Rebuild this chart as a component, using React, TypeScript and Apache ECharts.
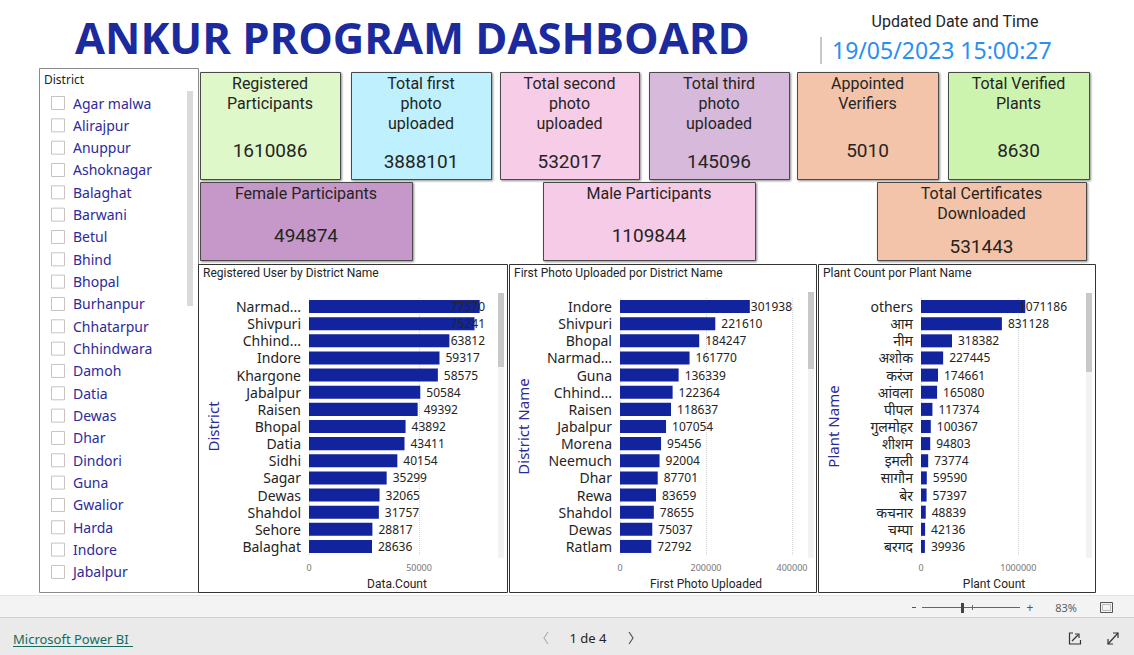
import React, { useEffect, useRef } from "react";
import * as echarts from "echarts";

// ---------------- DATA ----------------
const registeredDistricts = ["Narmad...", "Shivpuri", "Chhind...", "Indore", "Khargone", "Jabalpur", "Raisen", "Bhopal", "Datia", "Sidhi", "Sagar", "Dewas", "Shahdol", "Sehore", "Balaghat"];
const registeredCounts = [77570, 75241, 63812, 59317, 58575, 50584, 49392, 43892, 43411, 40154, 35299, 32065, 31757, 28817, 28636];

const photoDistricts = ["Indore", "Shivpuri", "Bhopal", "Narmad...", "Guna", "Chhind...", "Raisen", "Jabalpur", "Morena", "Neemuch", "Dhar", "Rewa", "Shahdol", "Dewas", "Ratlam"];
const firstPhotoCounts = [301938, 221610, 184247, 161770, 136339, 122364, 118637, 107054, 95456, 92004, 87701, 83659, 78655, 75037, 72792];

const plantNames = ["others", "आम", "नीम", "अशोक", "करंज", "आंवला", "पीपल", "गुलमोहर", "शीशम", "इमली", "सागौन", "बेर", "कचनार", "चम्पा", "बरगद"];
const plantCounts = [1071186, 831128, 318382, 227445, 174661, 165080, 117374, 100367, 94803, 73774, 59590, 57397, 48839, 42136, 39936];

const slicerDistricts = ["Agar malwa", "Alirajpur", "Anuppur", "Ashoknagar", "Balaghat", "Barwani", "Betul", "Bhind", "Bhopal", "Burhanpur", "Chhatarpur", "Chhindwara", "Damoh", "Datia", "Dewas", "Dhar", "Dindori", "Guna", "Gwalior", "Harda", "Indore", "Jabalpur"];

const cardTitles = [
  "Registered\nParticipants",
  "Total first\nphoto\nuploaded",
  "Total second\nphoto\nuploaded",
  "Total third\nphoto\nuploaded",
  "Appointed\nVerifiers",
  "Total Verified\nPlants",
  "Female Participants",
  "Male Participants",
  "Total Certificates\nDownloaded",
];
const cardValues = ["1610086", "3888101", "532017", "145096", "5010", "8630", "494874", "1109844", "531443"];

const chartTitles = ["Registered User by District Name", "First Photo Uploaded por District Name", "Plant Count por Plant Name"];
const xAxisNames = ["Data.Count", "First Photo Uploaded", "Plant Count"];
const yAxisNames = ["District", "District Name", "Plant Name"];
const xAxisMax = [80000, 400000, 1500000];
const xAxisInterval = [50000, 200000, 1000000];
const xAxisTicks = [[0, 50000], [0, 200000, 400000], [0, 1000000]];

const dashboardTitle = "ANKUR PROGRAM DASHBOARD";
const updatedLabel = "Updated Date and Time";
const updatedValue = "19/05/2023 15:00:27";

// ---------------- LAYOUT / STYLE ----------------
const FONT_UI = '"Noto Sans", "Noto Sans Devanagari", "Open Sans", sans-serif';
const FONT_DIN = 'Roboto, "Noto Sans", sans-serif';
const BAR_COLOR = "#12239E";

// card boxes: x, y, w, h, bg, title y, value y
const cardLayout = [
  { x: 200, y: 72, w: 140, h: 107, bg: "#DFF8CA", ty: 83, vy: 150 },
  { x: 351, y: 72, w: 140, h: 107, bg: "#BEF1FD", ty: 83, vy: 161 },
  { x: 500, y: 72, w: 139, h: 107, bg: "#F6CCE7", ty: 83, vy: 161 },
  { x: 649, y: 72, w: 140, h: 107, bg: "#D7B9DB", ty: 83, vy: 161 },
  { x: 797, y: 72, w: 141, h: 107, bg: "#F4C4AA", ty: 83, vy: 150 },
  { x: 948, y: 72, w: 141, h: 107, bg: "#CDF4AF", ty: 83, vy: 150 },
  { x: 200, y: 182, w: 212, h: 78, bg: "#C598C9", ty: 193, vy: 235 },
  { x: 543, y: 182, w: 212, h: 78, bg: "#F6CBE7", ty: 193, vy: 235 },
  { x: 877, y: 182, w: 209, h: 78, bg: "#F4C4AA", ty: 193, vy: 246 },
];

const panelLayout = [
  { x: 198.5, w: 309 },
  { x: 509.5, w: 307 },
  { x: 818.5, w: 277 },
];
const gridLayout = [
  { left: 309, width: 176, nameGap: 89, labelRight: 485, scrollX: 498, thumbTop: 293, thumbBottom: 367 },
  { left: 620, width: 172, nameGap: 90, labelRight: 792, scrollX: 808, thumbTop: 292, thumbBottom: 369 },
  { left: 921, width: 146, nameGap: 81, labelRight: 1067, scrollX: 1086, thumbTop: 293, thumbBottom: 372 },
];
const GRID_TOP = 298;
const GRID_H = 257;

function buildGraphics() {
  const g: any[] = [];
  const rect = (x: number, y: number, w: number, h: number, style: any, z = 0) =>
    g.push({ type: "rect", shape: { x, y, width: w, height: h }, style, z, silent: true });
  const text = (x: number, y: number, t: string, style: any, z = 2) =>
    g.push({ type: "text", x, y, style: { text: t, verticalAlign: "middle", ...style }, z, silent: true });
  const line = (x1: number, y1: number, x2: number, y2: number, stroke: string, lw = 1, z = 1) =>
    g.push({ type: "line", shape: { x1, y1, x2, y2 }, style: { stroke, lineWidth: lw }, z, silent: true });
  const poly = (points: number[][], stroke: string, lw = 1, z = 3) =>
    g.push({ type: "polyline", shape: { points }, style: { stroke, lineWidth: lw, fill: "none" }, z, silent: true });

  // title
  text(75, 37, dashboardTitle, { fill: "#1B2A9C", fontSize: 43.5, fontWeight: "bold", fontFamily: '"Open Sans", "Noto Sans", sans-serif', align: "left" });

  // updated date/time
  text(955, 21, updatedLabel, { fill: "#252423", fontSize: 16, fontFamily: FONT_DIN, align: "center" });
  rect(820, 37, 2, 27, { fill: "#c8c8c8" });
  text(832, 50, updatedValue, { fill: "#2B8FEF", fontSize: 23, fontFamily: FONT_UI, align: "left" });

  // slicer
  rect(39.5, 68.5, 159, 524, { fill: "#fff", stroke: "#8a8a8a", lineWidth: 1 });
  text(44, 79, "District", { fill: "#252423", fontSize: 12, fontFamily: FONT_UI, align: "left" });
  rect(187, 91, 6, 215, { fill: "#dadada" });
  slicerDistricts.forEach((d, i) => {
    const y = 103 + i * 22.33;
    rect(51.5, y - 6.5, 13, 13, { fill: "#fff", stroke: "#c9c3c0", lineWidth: 1 }, 1);
    text(73, y, d, { fill: "#2E2A9C", fontSize: 14, fontFamily: FONT_UI, align: "left" });
  });

  // cards
  cardLayout.forEach((c, i) => {
    rect(c.x + 0.5, c.y + 0.5, c.w, c.h, {
      fill: c.bg, stroke: "#4a4a4a", lineWidth: 1,
      shadowBlur: 2, shadowOffsetX: 1, shadowOffsetY: 1, shadowColor: "rgba(0,0,0,0.45)",
    }, 1);
    const cx = c.x + c.w / 2;
    cardTitles[i].split("\n").forEach((ln, k) => {
      text(cx, c.ty + k * 20, ln, { fill: "#252423", fontSize: 16, fontFamily: FONT_DIN, align: "center" });
    });
    text(cx, c.vy, cardValues[i], { fill: "#252423", fontSize: 19, fontFamily: FONT_DIN, align: "center" });
  });

  // chart panels
  panelLayout.forEach((p, i) => {
    rect(p.x, 264.5, p.w, 328, { fill: "none", stroke: "#333", lineWidth: 1 }, 1);
    text(p.x + 4.5, 273, chartTitles[i], { fill: "#252423", fontSize: 12, fontFamily: FONT_DIN, align: "left" });
    const gl = gridLayout[i];
    rect(gl.scrollX, 293, 6, 265, { fill: "#f2f2f2" }, 1);
    rect(gl.scrollX, gl.thumbTop, 6, gl.thumbBottom - gl.thumbTop, { fill: "#c8c8c8" }, 2);
  });

  // bottom toolbar
  rect(0, 595, 1134, 23, { fill: "#f3f3f3" }, 5);
  line(0, 595.5, 1134, 595.5, "#e2e2e2", 1, 6);
  line(0, 617.5, 1134, 617.5, "#d0d0d0", 1, 6);
  rect(0, 618, 1134, 37, { fill: "#eaeaea" }, 5);
  // zoom slider
  line(912, 607.5, 916, 607.5, "#555", 1, 7);
  line(922, 607.5, 1020, 607.5, "#666", 1, 7);
  line(972.5, 605, 972.5, 610, "#666", 1, 7);
  rect(961, 603, 3, 10, { fill: "#444" }, 8);
  text(1030, 607, "+", { fill: "#555", fontSize: 12, fontFamily: FONT_UI, align: "center" }, 8);
  text(1066, 607, "83%", { fill: "#605e5c", fontSize: 11, fontFamily: FONT_UI, align: "center" }, 8);
  rect(1100.5, 602.5, 12, 10, { fill: "none", stroke: "#555", lineWidth: 1 }, 8);
  rect(1102.5, 604.5, 8, 6, { fill: "#f3f3f3", stroke: "#999", lineWidth: 0.6 }, 8);

  // footer
  text(13, 639, "Microsoft Power BI", { fill: "#146B5F", fontSize: 13, fontFamily: FONT_UI, align: "left" }, 8);
  line(13, 646.5, 133, 646.5, "#146B5F", 1, 8);
  poly([[548, 632], [544, 638], [548, 644]], "#b0b0b0", 1.2, 8);
  text(588, 638, "1 de 4", { fill: "#252423", fontSize: 13, fontFamily: FONT_UI, align: "center" }, 8);
  poly([[629, 632], [633, 638], [629, 644]], "#555", 1.2, 8);
  // share icon
  poly([[1073, 633], [1069.5, 633], [1069.5, 644], [1080.5, 644], [1080.5, 640]], "#333", 1.2, 8);
  poly([[1072, 641], [1078, 635]], "#333", 1.2, 8);
  poly([[1075, 634], [1079, 634], [1079, 638]], "#333", 1.2, 8);
  // expand icon
  poly([[1108, 644], [1118, 633]], "#333", 1.2, 8);
  poly([[1113, 633], [1118, 633], [1118, 638]], "#333", 1.2, 8);
  poly([[1108, 639], [1108, 644], [1113, 644]], "#333", 1.2, 8);

  return g;
}

function clampLayout(right: number) {
  return (p: any) => {
    const over = p.labelRect.x + p.labelRect.width - right;
    return over > 0 ? { dx: -over } : {};
  };
}

function buildOption(): any {
  const cats = [registeredDistricts, photoDistricts, plantNames];
  const vals = [registeredCounts, firstPhotoCounts, plantCounts];
  return {
    animation: false,
    backgroundColor: "#fff",
    graphic: { elements: buildGraphics() },
    grid: gridLayout.map((gl) => ({ left: gl.left, top: GRID_TOP, width: gl.width, height: GRID_H })),
    xAxis: gridLayout.map((gl, i) => ({
      gridIndex: i,
      type: "value",
      min: 0,
      max: xAxisMax[i],
      interval: xAxisInterval[i],
      axisLine: { show: false },
      axisTick: { show: false },
      axisLabel: {
        fontSize: 9, color: "#777", margin: 8, fontFamily: FONT_UI, showMaxLabel: i === 1,
        formatter: (v: number) => String(v),
      },
      splitLine: { show: false },
      name: xAxisNames[i],
      nameLocation: "middle",
      nameGap: 23,
      nameTextStyle: { fontSize: 12, color: "#252423", fontFamily: FONT_DIN },
    })),
    yAxis: gridLayout.map((gl, i) => ({
      gridIndex: i,
      type: "category",
      data: cats[i],
      inverse: true,
      axisLine: { show: false },
      axisTick: { show: false },
      axisLabel: { interval: 0, fontSize: 14, color: "#252423", margin: 8, fontFamily: FONT_UI },
      name: yAxisNames[i],
      nameLocation: "middle",
      nameRotate: 90,
      nameGap: gl.nameGap,
      nameTextStyle: { fontSize: 15, color: "#2C2A9A", fontFamily: FONT_UI },
    })),
    series: gridLayout.map((gl, i) => ({
      type: "bar",
      xAxisIndex: i,
      yAxisIndex: i,
      data: vals[i],
      barCategoryGap: "24%",
      itemStyle: { color: BAR_COLOR },
      label: { show: true, position: "right", distance: 6, fontSize: 12, color: "#252423", fontFamily: FONT_UI },
      labelLayout: clampLayout(gl.labelRight),
      markLine: {
        silent: true,
        symbol: "none",
        label: { show: false },
        lineStyle: { type: "dotted", color: "#d6d6d6", width: 1 },
        z: 1,
        data: xAxisTicks[i].map((t) => ({ xAxis: t })),
      },
    })),
  };
}

export default function App() {
  const ref = useRef<HTMLDivElement>(null);
  useEffect(() => {
    if (!ref.current) return;
    const chart = echarts.init(ref.current, undefined, { renderer: "svg" });
    chart.setOption(buildOption());
    return () => chart.dispose();
  }, []);
  return (
    <div
      ref={ref}
      style={{ position: "fixed", left: 0, top: 0, width: 1134, height: 655, background: "#fff" }}
    />
  );
}
